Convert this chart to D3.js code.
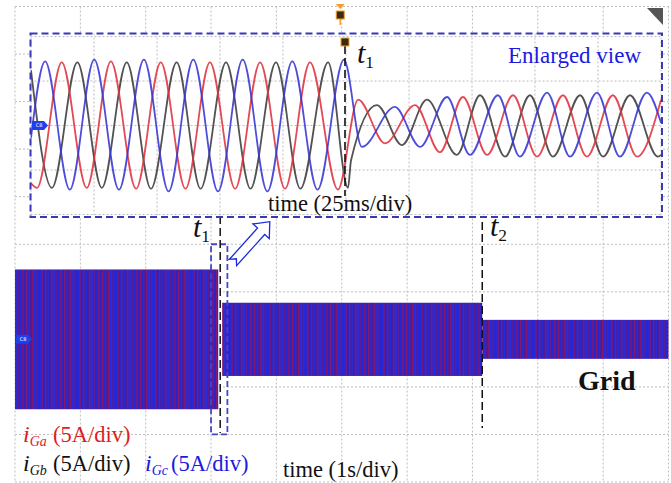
<!DOCTYPE html>
<html>
<head>
<meta charset="utf-8">
<script src="https://cdn.jsdelivr.net/npm/d3@7"></script>
<style>
  body { margin: 0; background: #fff; }
  svg { display: block; font-family: "Liberation Serif", "Times New Roman", serif; }
</style>
</head>
<body>
<svg id="chart" width="671" height="483"></svg>
<script>
// enlarged view, 25ms/div : peaks / troughs of each phase, [time ms, current A]
const gaInset = [[0,-6.5],[2.4,-7.0],[12.2,7.1],[22.1,-7.0],[31.7,7.2],[41.7,-7.1],[51.5,7.1],[61.3,-7.1],
  [71.0,7.1],[81.0,-7.1],[90.9,7.1],[100.8,-7.1],[110.7,7.1],[121.8,-7.2],[129.8,2.9],[140.5,-2.0],
  [152.4,2.3],[162.3,-3.0],[171.4,3.2],[181.0,-3.3],[191.3,3.4],[200.8,-3.5],[211.1,3.4],[220.6,-3.5],
  [230.9,3.4],[240.5,-3.5],[250,2.9]];
const gbInset = [[0,6.2],[8.3,-7.0],[18.4,7.1],[28.1,-7.0],[38.0,7.1],[47.6,-7.1],[57.8,7.1],[67.3,-7.1],
  [77.4,7.1],[87.1,-7.1],[97.2,7.1],[106.9,-7.1],[117.9,7.1],[125.8,-7.0],[127.0,-3.9],[137.3,2.3],
  [147.2,-2.2],[157.1,2.9],[169.0,-3.3],[178.2,3.4],[188.1,-3.5],[198.0,3.4],[207.1,-3.5],[217.9,3.4],
  [227.0,-3.5],[237.7,3.4],[248.8,-3.5],[250,-3.3]];
const gcInset = [[0,-1.4],[5.6,7.2],[15.4,-7.2],[25.1,7.4],[34.9,-7.2],[44.8,7.4],[54.6,-7.4],[64.4,7.4],
  [74.2,-7.4],[84.0,7.4],[93.8,-7.4],[103.7,7.2],[113.7,-7.2],[124.2,7.4],[131.3,-2.4],[144.4,2.1],
  [154.4,-2.4],[165.1,3.2],[174.2,-3.3],[185.3,3.4],[194.0,-3.5],[204.8,3.7],[213.9,-3.5],[224.6,3.7],
  [233.7,-3.5],[244.4,3.7],[250,0.3]];
const t1InsetMs = 124.6;

// main trace, 1s/div : envelope of the three phase currents
const bandStart = [0, 3.17, 7.15];
const bandEnd = [3.11, 7.15, 10];
const bandAmp = [7.35, 3.85, 2.05];
const t1Main = 3.14, t2Main = 7.15;
const zoomWindow = [3.0, 3.25];

const mainGridX = [0,1,2,3,4,5,6,7,8,9,10];
const mainGridY = [-15,-10,-5,0,5,10,15,20,25,30,35];
const insetGridX = [0,25,50,75,100,125,150,175,200,225,250];
const insetGridY = [-10,-5,0,5,10];

function scopeChart() {

  var svg = d3.select("#chart");
  svg.append("rect").attr("width", 671).attr("height", 483).attr("fill", "#fff");

  // main screen scales
  const x = d3.scaleLinear().domain([0, 10]).range([15, 668.5]);
  const y = d3.scaleLinear().domain([-15, 35]).range([482, 6.5]);

  const defs = svg.append("defs");
  // dense aliased 50Hz traces -> striped fill
  const hatch = defs.append("pattern").attr("id", "hatch")
    .attr("patternUnits", "userSpaceOnUse").attr("width", 19).attr("height", 4);
  hatch.append("rect").attr("width", 19).attr("height", 4).attr("fill", "#3a1ea8");
  [[0,3,"#2626d2"],[3,2,"#6a1a88"],[5,2,"#2f22c2"],[7,1.5,"#82196e"],[8.5,2.5,"#2828cc"],
   [11,2,"#4c1c9c"],[13,1.5,"#7c1a74"],[14.5,3,"#2a2ad6"],[17.5,1.5,"#5a1c92"]]
    .forEach(s => hatch.append("rect").attr("x", s[0]).attr("width", s[1]).attr("height", 4).attr("fill", s[2]));

  // grid
  const grid = svg.append("g").attr("stroke", "#bdbdbd").attr("stroke-width", 1).attr("stroke-dasharray", "2,2");
  grid.selectAll(".gx").data(mainGridX).join("line")
    .attr("x1", d => x(d)).attr("x2", d => x(d)).attr("y1", y(35)).attr("y2", y(-15));
  grid.selectAll(".gy").data(mainGridY).join("line")
    .attr("x1", x(0)).attr("x2", x(10)).attr("y1", d => y(d)).attr("y2", d => y(d));

  // envelope band
  svg.append("g").selectAll("rect").data(bandAmp).join("rect")
    .attr("x", (d, i) => x(bandStart[i]))
    .attr("width", (d, i) => x(bandEnd[i]) - x(bandStart[i]))
    .attr("y", d => y(d))
    .attr("height", d => y(-d) - y(d))
    .attr("fill", "url(#hatch)");

  // C8 tag
  function tag(g, x0, yc) {
    g.append("path")
      .attr("d", `M${x0},${yc-4.5} h12 l4,4.5 l-4,4.5 h-12 z`)
      .attr("fill", "#1f3fe8");
    g.append("text").attr("x", x0 + 7).attr("y", yc + 1.8).attr("text-anchor", "middle")
      .attr("fill", "#fff").attr("font-size", 5).attr("font-family", "DejaVu Sans").text("C8");
  }
  tag(svg, 16, y(0));

  // zoom window box and event lines
  svg.append("rect")
    .attr("x", x(zoomWindow[0])).attr("width", x(zoomWindow[1]) - x(zoomWindow[0]))
    .attr("y", y(10)).attr("height", y(-10) - y(10))
    .attr("fill", "none").attr("stroke", "#4646c8").attr("stroke-width", 1.8).attr("stroke-dasharray", "6,3");
  svg.append("line").attr("x1", x(t1Main)).attr("x2", x(t1Main)).attr("y1", 216).attr("y2", 433)
    .attr("stroke", "#111").attr("stroke-width", 1.5).attr("stroke-dasharray", "8,4");
  svg.append("line").attr("x1", x(t2Main)).attr("x2", x(t2Main)).attr("y1", 222).attr("y2", 428)
    .attr("stroke", "#111").attr("stroke-width", 1.5).attr("stroke-dasharray", "8,4");

  // trigger marker at the top
  svg.append("path").attr("d", `M${x(5)-6},4 h9 l-4.5,5 z`).attr("fill", "#f0a030");
  svg.append("line").attr("x1", x(5)-1.5).attr("x2", x(5)-1.5).attr("y1", 18).attr("y2", 25)
    .attr("stroke", "#f0a030").attr("stroke-width", 1.5);
  svg.append("rect").attr("x", x(5)-5.5).attr("y", 11).attr("width", 8).attr("height", 8)
    .attr("fill", "#3a2a12").attr("stroke", "#f0a030").attr("stroke-width", 1);

  // corner icons
  svg.append("path").attr("d", "M647,8 H663 V25 Z").attr("fill", "#555");
  svg.append("path").attr("d", "M641,37 H658 V54 Z").attr("fill", "#555");

  // ---------------- enlarged view ----------------
  const box = {x0: 30.5, x1: 662, y0: 33.5, y1: 217};
  const xi = d3.scaleLinear().domain([0, 250]).range([31, 661]);
  const yi = d3.scaleLinear().domain([-10, 10]).range([214.5, 36.5]);

  svg.append("rect").attr("x", box.x0).attr("y", box.y0)
    .attr("width", box.x1 - box.x0).attr("height", box.y1 - box.y0).attr("fill", "#fff");
  defs.append("clipPath").attr("id", "insetClip").append("rect")
    .attr("x", box.x0).attr("y", box.y0).attr("width", box.x1 - box.x0).attr("height", box.y1 - box.y0);

  const igrid = svg.append("g").attr("stroke", "#bdbdbd").attr("stroke-width", 1).attr("stroke-dasharray", "2,2");
  igrid.selectAll(".ix").data(insetGridX).join("line")
    .attr("x1", d => xi(d)).attr("x2", d => xi(d)).attr("y1", box.y0).attr("y2", box.y1);
  igrid.selectAll(".iy").data(insetGridY).join("line")
    .attr("x1", box.x0).attr("x2", box.x1).attr("y1", d => yi(d)).attr("y2", d => yi(d));

  const line = d3.line().x(d => xi(d[0])).y(d => yi(d[1])).curve(d3.curveMonotoneX);
  const waves = svg.append("g").attr("clip-path", "url(#insetClip)")
    .attr("fill", "none").attr("stroke-width", 1.8);
  waves.append("path").attr("d", line(gbInset)).attr("stroke", "#3a3a3a").attr("stroke-opacity", 0.88);
  waves.append("path").attr("d", line(gaInset)).attr("stroke", "#e0303c").attr("stroke-opacity", 0.88);
  waves.append("path").attr("d", line(gcInset)).attr("stroke", "#3434d4").attr("stroke-opacity", 0.88);

  tag(svg, 32, yi(0));

  svg.append("line").attr("x1", xi(t1InsetMs)).attr("x2", xi(t1InsetMs)).attr("y1", 46).attr("y2", 196)
    .attr("stroke", "#111").attr("stroke-width", 1.6).attr("stroke-dasharray", "8,4");
  svg.append("rect").attr("x", xi(t1InsetMs)-4).attr("y", 38).attr("width", 8).attr("height", 8)
    .attr("fill", "#3a2a12").attr("stroke", "#f0a030").attr("stroke-width", 1);

  svg.append("rect").attr("x", box.x0).attr("y", box.y0)
    .attr("width", box.x1 - box.x0).attr("height", box.y1 - box.y0)
    .attr("fill", "none").attr("stroke", "#3838b8").attr("stroke-width", 2).attr("stroke-dasharray", "7,4");

  // arrow from zoom window to enlarged view
  svg.append("path")
    .attr("d", "M0,-4.8 L42,-4.8 L42,-11 L55,0 L42,11 L42,4.8 L0,4.8 L5,0 Z")
    .attr("transform", "translate(233,262.5) rotate(-48)")
    .attr("fill", "#fff").attr("stroke", "#1a2ae0").attr("stroke-width", 1.3);

  // ---------------- text ----------------
  function sub(xp, yp, main, subTxt, size, color, subItalic) {
    const t = svg.append("text").attr("x", xp).attr("y", yp).attr("fill", color).attr("font-size", size);
    t.append("tspan").attr("font-style", "italic").text(main);
    t.append("tspan").attr("dy", size * 0.17).attr("font-size", size * 0.58)
      .attr("font-style", subItalic ? "italic" : "normal").text(subTxt);
  }
  sub(357, 63, "t", "1", 30, "#111", false);
  sub(193, 237, "t", "1", 30, "#111", false);
  sub(490, 236, "t", "2", 30, "#111", false);

  svg.append("text").attr("x", 508).attr("y", 63).attr("font-size", 23).attr("fill", "#1a1ae0").text("Enlarged view");
  svg.append("text").attr("x", 268).attr("y", 211).attr("font-size", 22.5).attr("fill", "#111").text("time (25ms/div)");
  svg.append("text").attr("x", 283).attr("y", 477).attr("font-size", 22.5).attr("fill", "#111").text("time (1s/div)");
  svg.append("text").attr("x", 578).attr("y", 390).attr("font-size", 28).attr("font-weight", "bold").attr("fill", "#111").text("Grid");

  sub(23, 442, "i", "Ga", 24, "#e01b24", true);
  svg.append("text").attr("x", 53).attr("y", 442).attr("font-size", 22.5).attr("fill", "#e01b24").text("(5A/div)");
  sub(23, 471, "i", "Gb", 24, "#111", true);
  svg.append("text").attr("x", 53).attr("y", 471).attr("font-size", 22.5).attr("fill", "#111").text("(5A/div)");
  sub(145, 471, "i", "Gc", 24, "#1a1ae0", true);
  svg.append("text").attr("x", 171).attr("y", 471).attr("font-size", 22.5).attr("fill", "#1a1ae0").text("(5A/div)");
}

scopeChart();
</script>
</body>
</html>
